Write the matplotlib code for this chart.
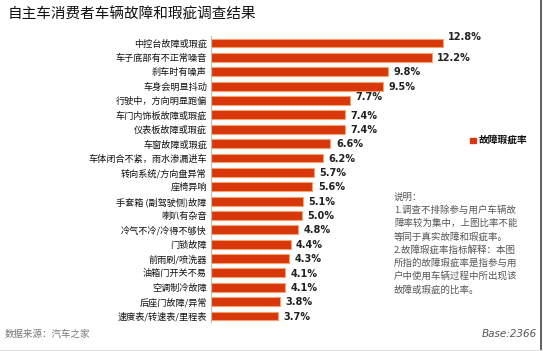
import matplotlib
matplotlib.use('Agg')
import matplotlib.pyplot as plt

plt.rcParams['font.family'] = ['Noto Sans CJK SC', 'DejaVu Sans']

# data
categories = ['中控台故障或瑕疵', '车子底部有不正常噪音', '刹车时有噪声', '车身会明显抖动',
              '行驶中，方向明显跑偏', '车门内饰板故障或瑕疵', '仪表板故障或瑕疵', '车窗故障或瑕疵',
              '车体闭合不紧，雨水渗漏进车', '转向系统/方向盘异常', '座椅异响', '手套箱 (副驾驶侧)故障',
              '喇叭有杂音', '冷气不冷/冷得不够快', '门锁故障', '前雨刷/喷洗器',
              '油箱门开关不易', '空调制冷故障', '后座门故障/异常', '速度表/转速表/里程表']
values = [12.8, 12.2, 9.8, 9.5, 7.7, 7.4, 7.4, 6.6, 6.2, 5.7, 5.6, 5.1, 5.0, 4.8, 4.4, 4.3,
          4.1, 4.1, 3.8, 3.7]
series_name = '故障瑕疵率'
notes = ['说明：',
         '1.调查不排除参与用户车辆故',
         '障率较为集中，上图比率不能',
         '等同于真实故障和瑕疵率。',
         '2.故障瑕疵率指标解释：本图',
         '所指的故障瑕疵率是指参与用',
         '户中使用车辆过程中所出现该',
         '故障或瑕疵的比率。']

W, H = 543, 351
fig = plt.figure(figsize=(W / 100, H / 100), dpi=100)
fig.patch.set_facecolor('white')

left, right = 211 / W, 460 / W
ax = fig.add_axes([left, 1 - 322 / H, right - left, (322 - 36) / H])
ypos = list(range(len(values)))
ax.barh(ypos, values, height=0.62, color='#D8360B', edgecolor='#F4A36E', linewidth=0.8)
ax.set_ylim(19.42, -0.49)
ax.set_xlim(0, (460 - 211) / 18.1)

# value labels (a couple sit a bit higher in the original)
raise_px = {0: 0.45, 4: 0.3}
for i, v in enumerate(values):
    ax.text(v + 0.3, i - raise_px.get(i, 0) + 0.05, f'{v:.1f}%', va='center', ha='left',
            fontsize=7, fontweight='bold', color='#222222', family=['DejaVu Sans'])

ax.set_yticks(ypos)
ax.set_yticklabels(categories, fontsize=6.6, color='#111111')
ax.tick_params(axis='y', length=0, pad=3)
ax.set_xticks([])
for s in ['top', 'right', 'bottom']:
    ax.spines[s].set_visible(False)
ax.spines['left'].set_color('#BBBBBB')
ax.spines['left'].set_linewidth(0.8)

# title
fig.text(8 / W, 1 - 14 / H, '自主车消费者车辆故障和瑕疵调查结果', fontsize=10.5,
         va='center', ha='left', color='#111111')

# legend
fig.patches.append(plt.Rectangle((470 / W, 1 - 143 / H), 5.5 / W, 5.5 / H,
                                 transform=fig.transFigure, color='#D8360B'))
fig.text(479 / W, 1 - 140 / H, series_name, fontsize=7, fontweight='bold', va='center',
         ha='left', color='#111111')

# notes
for k, line in enumerate(notes):
    fig.text(394 / W, 1 - (197 + 13.2 * k) / H, line, fontsize=6.8, va='center', ha='left',
             color='#555555')

# footer
fig.text(5 / W, 1 - 334 / H, '数据来源：汽车之家', fontsize=6.8, va='center', ha='left',
         color='#777777')
fig.text(537 / W, 1 - 334 / H, 'Base:2366', fontsize=7.5, style='italic', va='center',
         ha='right', color='#555555', family=['DejaVu Sans'])

# frame lines
fig.add_artist(plt.Line2D([541 / W, 541 / W], [0, 1], color='#444444', linewidth=1.2))
fig.add_artist(plt.Line2D([0, 1], [1.5 / H, 1.5 / H], color='#DDDDDD', linewidth=0.8))

fig.savefig('out.png', dpi=100)
